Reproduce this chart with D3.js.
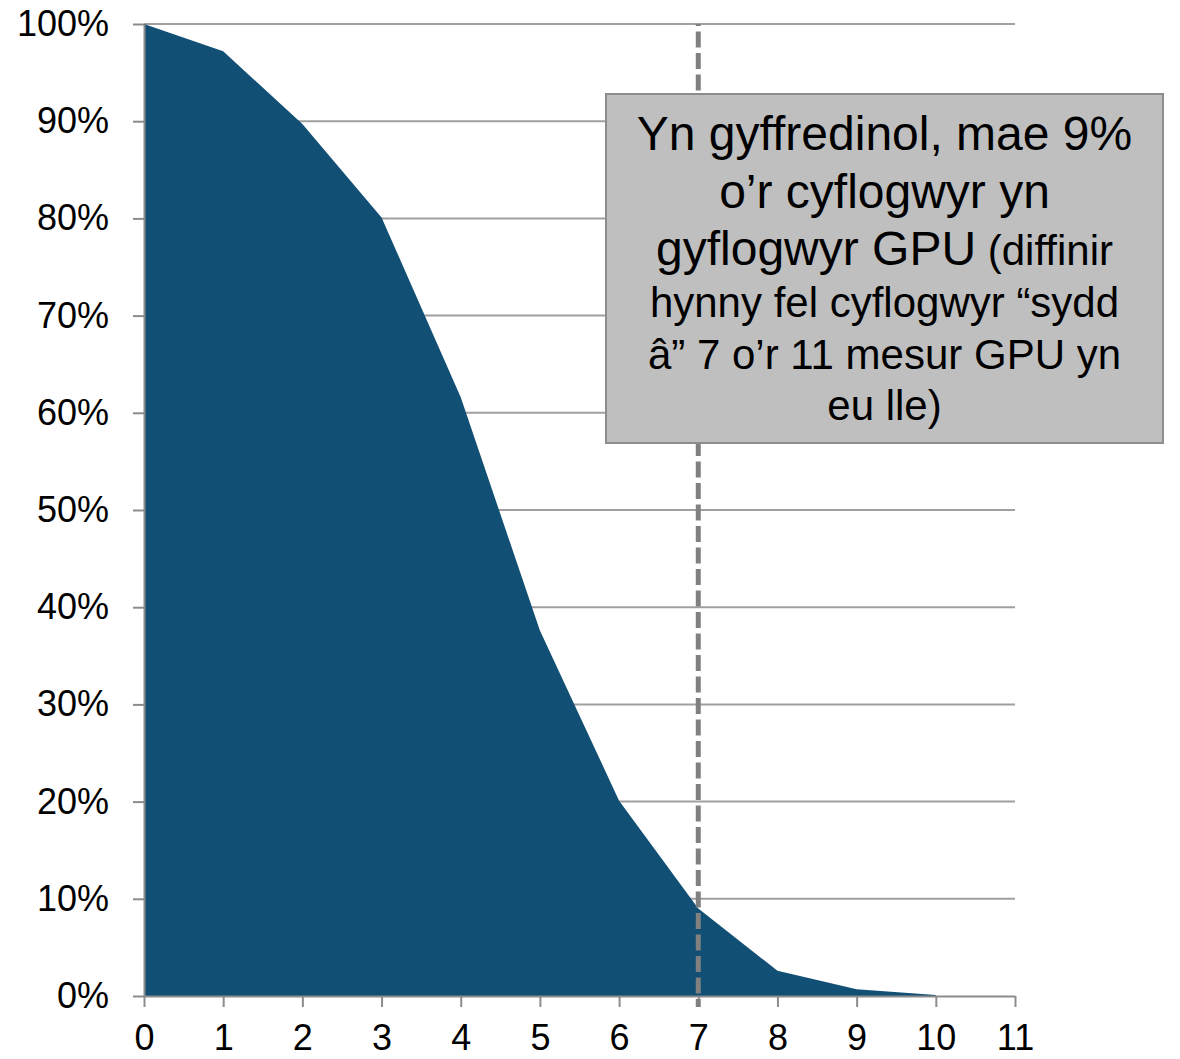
<!DOCTYPE html>
<html>
<head>
<meta charset="utf-8">
<script src="https://cdn.jsdelivr.net/npm/d3@7"></script>
<style>
  html, body { margin: 0; padding: 0; background: #fff; }
  svg { display: block; font-family: "Liberation Sans", Arial, sans-serif; }
</style>
</head>
<body>
<svg id="chart" width="1180" height="1059"></svg>
<script>
// Number of GPU measures in place (0–11) and share of employers with at least that many
const measures = [0, 1, 2, 3, 4, 5, 6, 7, 8, 9, 10];
const shareAtLeast = [1.0, 0.972, 0.897, 0.801, 0.616, 0.376, 0.201, 0.09, 0.026, 0.007, 0.001];
const xTicks = [0, 1, 2, 3, 4, 5, 6, 7, 8, 9, 10, 11];
const yTicks = [0, 0.1, 0.2, 0.3, 0.4, 0.5, 0.6, 0.7, 0.8, 0.9, 1.0];
const thresholdMeasure = 7;
const noteLines = [
  [{ t: "Yn gyffredinol, mae 9%", big: true }],
  [{ t: "o\u2019r cyflogwyr yn", big: true }],
  [{ t: "gyflogwyr GPU", big: true }, { t: " (diffinir", big: false }],
  [{ t: "hynny fel cyflogwyr \u201csydd", big: false }],
  [{ t: "\u00e2\u201d 7 o\u2019r 11 mesur GPU yn", big: false }],
  [{ t: "eu lle)", big: false }]
];

const svg = d3.select("#chart");
const x = d3.scaleLinear().domain([0, 11]).range([144, 1015]);
const y = d3.scaleLinear().domain([0, 1]).range([996, 24]);
const gridColor = "#a0a0a0";
const axisColor = "#8c8c8c";

// horizontal gridlines
svg.append("g")
  .selectAll("line")
  .data(yTicks.filter(d => d > 0))
  .join("line")
  .attr("x1", x(0)).attr("x2", x(11))
  .attr("y1", d => y(d)).attr("y2", d => y(d))
  .attr("stroke", gridColor).attr("stroke-width", 2);

// cumulative area
const area = d3.area()
  .x((d, i) => x(measures[i]))
  .y0(y(0))
  .y1(d => y(d));
svg.append("path")
  .datum(shareAtLeast)
  .attr("d", area)
  .attr("fill", "#124f74");

// axes
const yAxis = svg.append("g")
  .attr("transform", `translate(${x(0)},0)`)
  .call(d3.axisLeft(y).tickValues(yTicks).tickFormat(d3.format(".0%"))
    .tickSizeInner(11).tickSizeOuter(0).tickPadding(24));
const xAxis = svg.append("g")
  .attr("transform", `translate(0,${y(0)})`)
  .call(d3.axisBottom(x).tickValues(xTicks).tickFormat(d3.format("d"))
    .tickSizeInner(11).tickSizeOuter(0).tickPadding(17));
[yAxis, xAxis].forEach(g => {
  g.selectAll("path.domain").attr("stroke", axisColor).attr("stroke-width", 2);
  g.selectAll(".tick line").attr("stroke", axisColor).attr("stroke-width", 2);
  g.selectAll(".tick text")
    .attr("fill", "#000")
    .style("font-size", "36px")
    .style("font-family", "'Liberation Sans', Arial, sans-serif");
});

// dashed threshold marker at 7 measures
svg.append("line")
  .attr("x1", x(thresholdMeasure)).attr("x2", x(thresholdMeasure))
  .attr("y1", y(1)).attr("y2", y(0) + 11)
  .attr("stroke", "#808080").attr("stroke-width", 5)
  .attr("stroke-dasharray", "16,5.5")
  .attr("stroke-dashoffset", 14);

// annotation box
const box = { x0: 606, y0: 94, x1: 1163, y1: 443 };
svg.append("rect")
  .attr("x", box.x0).attr("y", box.y0)
  .attr("width", box.x1 - box.x0).attr("height", box.y1 - box.y0)
  .attr("fill", "#bfbfbf").attr("stroke", "#8c8c8c").attr("stroke-width", 2);

const baselines = [150, 208, 265, 317, 369, 420];
const note = svg.append("text")
  .attr("text-anchor", "middle")
  .attr("fill", "#000");
noteLines.forEach((line, i) => {
  const row = note.append("tspan")
    .attr("x", (box.x0 + box.x1) / 2)
    .attr("y", baselines[i]);
  line.forEach(part => {
    row.append("tspan")
      .style("font-size", part.big ? "48px" : "42px")
      .text(part.t);
  });
});
</script>
</body>
</html>
